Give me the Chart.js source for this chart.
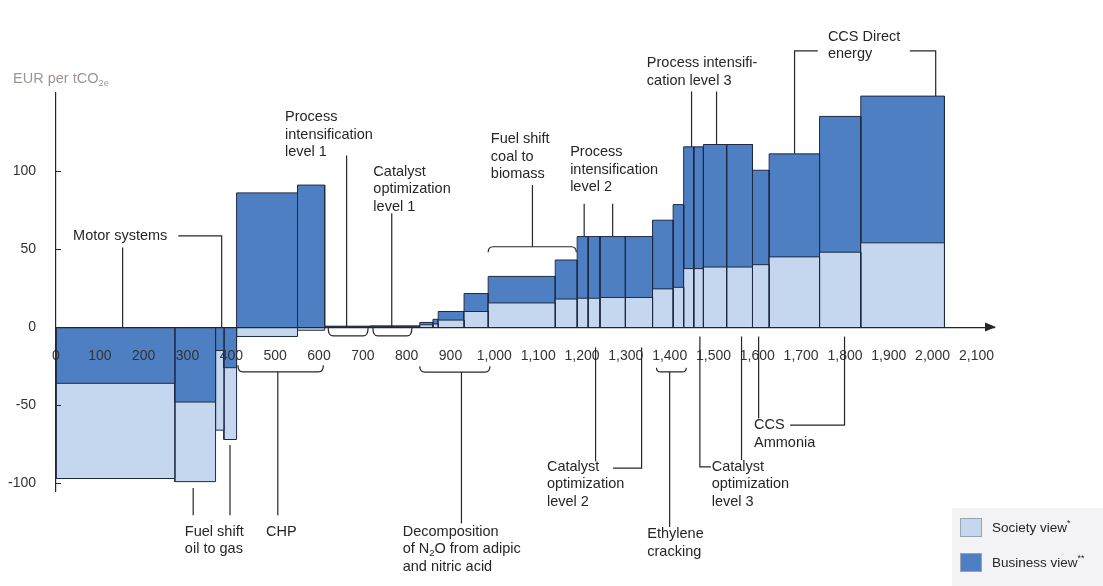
<!DOCTYPE html>
<html>
<head>
<meta charset="utf-8">
<script src="https://cdn.jsdelivr.net/npm/chart.js@4.4.0/dist/chart.umd.min.js"></script>
<style>
  html, body { margin: 0; padding: 0; background: #fff; }
  #wrap { width: 1103px; height: 586px; position: relative; }
</style>
</head>
<body>
<div id="wrap"><canvas id="mac"></canvas></div>
<script>
// abatement measures left to right: cumulative abatement range and cost (EUR per tCO2e)
const measureStart = [0, 271, 364, 383, 412, 551, 613, 717, 830, 860, 872, 931, 986, 1139, 1189, 1214, 1241, 1299, 1361, 1408, 1432, 1455, 1477, 1530, 1589, 1627, 1742, 1836];
const measureEnd = [271, 364, 383, 412, 551, 613, 717, 830, 860, 872, 931, 986, 1139, 1189, 1214, 1241, 1299, 1361, 1408, 1432, 1455, 1477, 1530, 1589, 1627, 1742, 1836, 2027];
const societyCost = [-97, -99, -66, -72, -6, -2, 0.3, 0.3, 1.5, 2, 4.5, 10, 15.5, 18, 18.5, 18.5, 19, 19, 24.5, 25.5, 37.5, 37.5, 38.5, 38.5, 40, 45, 48, 54];
const businessCost = [-36, -48, -15, -26, 86, 91, 0.6, 0.8, 3, 5, 10, 21.5, 32.5, 43, 58, 58, 58, 58, 68.5, 78.5, 115.5, 115.5, 117, 117, 100.5, 111, 135, 148];

const xTicks = [0, 100, 200, 300, 400, 500, 600, 700, 800, 900, 1000, 1100, 1200, 1300, 1400, 1500, 1600, 1700, 1800, 1900, 2000, 2100];
const yTicks = [-100, -50, 0, 50, 100];

const DARK = '#4f7fc3';
const LIGHT = '#c4d7ef';
const EDGE = '#1e2a40';
const INK = '#262626';
const FONT = '"Liberation Sans", Arial, Helvetica, sans-serif';

// labels with leader lines, in axis units
const notes = [
    { text: ['Motor systems'], at: [39, 58.5], lines: [[[152, 51], [152, 0]], [[279, 58.5], [378, 58.5], [378, 0]]] },
    { text: ['Fuel shift', 'oil to gas'], at: [294, -131], lines: [[[313, -103], [313, -120.5]], [[397, -75.6], [397, -120.5]]] },
    { text: ['CHP'], at: [479, -131], lines: [[[506, -28.7], [506, -120.5]]], brace: [415, 610, -28.7, -24.4] },
    { text: ['Process', 'intensification', 'level 1'], at: [522.5, 134.6], lines: [[[663, 110], [663, 0]]], brace: [621, 712, -5.6, -0.5] },
    { text: ['Catalyst', 'optimization', 'level 1'], at: [724, 99.6], lines: [[[766, 73], [766, 0]]], brace: [723, 812, -5.6, -0.5] },
    { text: ['Fuel shift', 'coal to', 'biomass'], at: [992, 120.3], lines: [[[1087, 91], [1087, 51.5]]], brace: [986, 1187, 51.5, 48] },
    { text: ['Process', 'intensification', 'level 2'], at: [1173, 112], lines: [[[1205, 79], [1205, 58]], [[1270, 79], [1270, 58]]] },
    { text: ['Process intensifi-', 'cation level 3'], at: [1348, 169], lines: [[[1450, 151], [1450, 115.5]], [[1507, 151], [1507, 117]]] },
    { text: ['CCS Direct', 'energy'], at: [1761, 186], lines: [[[1738, 177], [1685, 177], [1685, 111]], [[1948, 177], [2007, 177], [2007, 148]]] },
    { text: ['Catalyst', 'optimization', 'level 2'], at: [1120, -89.6], lines: [[[1231, -13], [1231, -86]], [[1271, -90.4], [1336, -90.4], [1336, -13]]] },
    { text: ['Ethylene', 'cracking'], at: [1349, -132.7], lines: [[[1400, -28.7], [1400, -128]]], brace: [1370, 1438, -28.7, -26] },
    { text: ['Catalyst', 'optimization', 'level 3'], at: [1496, -89.6], lines: [[[1469, -6], [1469, -89.6], [1494, -89.6]], [[1564, -6], [1564, -85.3]]] },
    { text: ['CCS', 'Ammonia'], at: [1592.5, -62.8], lines: [[[1603, -6], [1603, -58.5]], [[1675, -62.8], [1799, -62.8], [1799, -6]]] },
    { text: ['Decomposition', 'of N_{2}O from adipic', 'and nitric acid'], at: [791, -131], lines: [[[925, -28.8], [925, -125.8]]], brace: [830, 990, -28.8, -25] }
];

function rect(s, e, v, colour, order) {
    return {
        data: [{ x: s, y: 0 }, { x: s, y: v }, { x: e, y: v }, { x: e, y: 0 }],
        backgroundColor: colour,
        borderColor: EDGE,
        borderWidth: 1,
        fill: 'origin',
        pointRadius: 0,
        tension: 0,
        order: order
    };
}

// the bar closer to zero is drawn on top of the other one
const datasets = [];
measureStart.forEach((s, i) => {
    const e = measureEnd[i];
    const societyOnTop = Math.abs(societyCost[i]) <= Math.abs(businessCost[i]);
    datasets.push(rect(s, e, societyCost[i], LIGHT, societyOnTop ? 1 : 2));
    datasets.push(rect(s, e, businessCost[i], DARK, societyOnTop ? 2 : 1));
});

// "_{..}" subscript, "^{..}" superscript
function richText(ctx, str, x, y, size) {
    const parts = str.split(/([_^]\{[^}]*\})/).filter(p => p);
    let cx = x;
    parts.forEach(p => {
        let fs = size, dy = 0, t = p;
        if (p[0] === '_') { t = p.slice(2, -1); fs = size * 0.65; dy = size * 0.3; }
        else if (p[0] === '^') { t = p.slice(2, -1); fs = size * 0.65; dy = -size * 0.3; }
        ctx.font = fs + 'px ' + FONT;
        ctx.fillText(t, cx, y + dy);
        cx += ctx.measureText(t).width;
    });
}

const decorations = {
    id: 'decorations',
    afterDraw(chart) {
        const ctx = chart.ctx;
        const xs = chart.scales.x, ys = chart.scales.y;
        const px = v => xs.getPixelForValue(v);
        const py = v => ys.getPixelForValue(v);
        ctx.save();

        // arrow at the end of the x axis
        const ax = xs.right, ay = py(0);
        ctx.fillStyle = INK;
        ctx.beginPath();
        ctx.moveTo(ax + 2, ay);
        ctx.lineTo(ax - 9, ay - 4.5);
        ctx.lineTo(ax - 9, ay + 4.5);
        ctx.closePath();
        ctx.fill();

        // short inward tick marks on the y axis
        ctx.strokeStyle = INK;
        ctx.lineWidth = 1;
        yTicks.forEach(v => {
            if (v === 0) return;
            ctx.beginPath();
            ctx.moveTo(px(0), Math.round(py(v)) + 0.5);
            ctx.lineTo(px(0) + 5, Math.round(py(v)) + 0.5);
            ctx.stroke();
        });

        // unit label over the y axis
        ctx.fillStyle = '#a39390';
        ctx.textBaseline = 'middle';
        ctx.textAlign = 'left';
        richText(ctx, 'EUR per tCO_{2e}', px(0) - 43, py(159), 14.5);

        // leader lines and braces
        ctx.strokeStyle = INK;
        ctx.lineWidth = 1.2;
        notes.forEach(n => {
            n.lines.forEach(l => {
                ctx.beginPath();
                l.forEach((p, k) => k ? ctx.lineTo(px(p[0]), py(p[1])) : ctx.moveTo(px(p[0]), py(p[1])));
                ctx.stroke();
            });
            if (n.brace) {
                const [b0, b1, by, be] = n.brace;
                const x0 = px(b0), x1 = px(b1), y = py(by), ye = py(be);
                const r = Math.min(5, Math.abs(ye - y));
                ctx.beginPath();
                ctx.moveTo(x0, ye);
                ctx.quadraticCurveTo(x0, y, x0 + r, y);
                ctx.lineTo(x1 - r, y);
                ctx.quadraticCurveTo(x1, y, x1, ye);
                ctx.stroke();
            }
            ctx.fillStyle = INK;
            n.text.forEach((t, k) => richText(ctx, t, px(n.at[0]), py(n.at[1]) + k * 17.5, 14.5));
        });

        // legend
        const lx = 952, ly = 508;
        ctx.fillStyle = '#f3f3f5';
        ctx.fillRect(lx, ly, 151, 78);
        [[LIGHT, 'Society view^{*}'], [DARK, 'Business view^{**}']].forEach(([c, label], k) => {
            const by = ly + 10 + k * 35;
            ctx.fillStyle = c;
            ctx.fillRect(lx + 8, by, 22, 19);
            ctx.strokeStyle = '#9aa3b0';
            ctx.lineWidth = 1;
            ctx.strokeRect(lx + 8.5, by + 0.5, 21, 18);
            ctx.fillStyle = INK;
            richText(ctx, label, lx + 40, by + 10, 13.5);
        });
        ctx.restore();
    }
};

const tickFont = { size: 14, family: FONT };

new Chart(document.getElementById('mac'), {
    type: 'line',
    data: { datasets: datasets },
    options: {
        responsive: true,
        maintainAspectRatio: false,
        animation: false,
        events: [],
        layout: { padding: { left: 0, right: 109, top: 93, bottom: 95 } },
        plugins: { legend: { display: false }, tooltip: { enabled: false } },
        scales: {
            x: {
                type: 'linear',
                min: 0,
                max: 2140,
                position: { y: 0 },
                grid: { display: false },
                border: { display: true, color: INK, width: 1.2, z: 1 },
                ticks: {
                    z: 1,
                    padding: 13,
                    color: '#333',
                    font: tickFont,
                    autoSkip: false,
                    maxRotation: 0,
                    callback: v => v.toLocaleString('en-US')
                },
                afterBuildTicks: s => { s.ticks = xTicks.map(v => ({ value: v })); }
            },
            y: {
                type: 'linear',
                min: -105,
                max: 150,
                position: 'left',
                grid: { display: false },
                border: { display: true, color: INK, width: 1.2, z: 1 },
                ticks: {
                    z: 1,
                    padding: 12,
                    color: '#333',
                    font: tickFont,
                    callback: v => v.toLocaleString('en-US')
                },
                afterBuildTicks: s => { s.ticks = yTicks.map(v => ({ value: v })); },
                afterFit: s => { s.width = 56; }
            }
        }
    },
    plugins: [decorations]
});
</script>
</body>
</html>
